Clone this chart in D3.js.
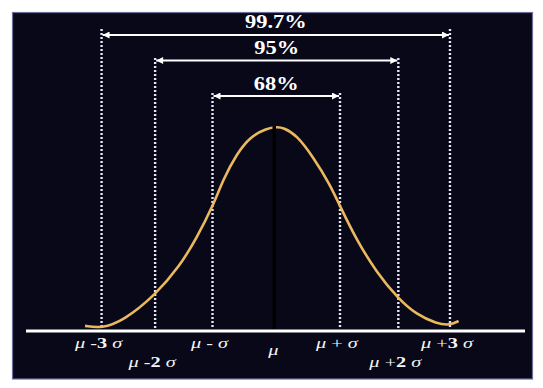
<!DOCTYPE html>
<html>
<head>
<meta charset="utf-8">
<script src="https://cdn.jsdelivr.net/npm/d3@7"></script>
<style>
  body { margin: 0; background: #ffffff; }
  svg { display: block; }
</style>
</head>
<body>
<svg id="chart"></svg>
<script>
// where the dotted σ lines sit, in σ units (as drawn, not exact)
const lineAt = [-2.74, -1.90, -1.0, 1.0, 1.915, 2.725];
const lineLevel = [2, 1, 0, 0, 1, 2]; // which band each line belongs to

// bands: 68%, 95%, 99.7%
const bandLabels = ['68%', '95%', '99.7%'];

// curve: z in σ units, height relative to the peak
const curveZ = [-3.0, -2.74, -2.40, -1.90, -1.51, -1.25, -0.99, -0.83, -0.62, -0.41, -0.15, 0.01,
                0.11, 0.32, 0.58, 0.84, 1.0, 1.26, 1.58, 1.91, 2.20, 2.52, 2.72, 2.86];
const curveH = [0.025, 0.013, 0.05, 0.175, 0.32, 0.455, 0.615, 0.745, 0.868, 0.952, 0.994, 1.0,
                0.997, 0.961, 0.852, 0.72, 0.612, 0.446, 0.285, 0.160, 0.08, 0.036, 0.028, 0.049];

// tick labels: sign and multiplier of σ, row (0 upper, 1 lower)
const tickSign = ['-', '-', '-', '+', '+', '+'];
const tickMult = ['3', '2', '', '', '2', '3'];
const tickRow = [0, 1, 0, 0, 1, 0];

const W = 543, H = 388;
const svg = d3.select('#chart').attr('width', W).attr('height', H);

const x = d3.scaleLinear().domain([-1, 1]).range([212.5, 340]);
const y = d3.scaleLinear().domain([0, 1]).range([331, 127]);

const bandTop = [93, 58, 29];
const arrowY = [96, 60.5, 35];
const labelY = [90, 53.5, 27.5];
const rowY = [348, 367];

// panel
svg.append('rect')
    .attr('x', 12.5).attr('y', 12.5)
    .attr('width', 520).attr('height', 366.5)
    .attr('fill', '#080819')
    .attr('stroke', '#6e6e98')
    .attr('stroke-width', 1.2);

const defs = svg.append('defs');
defs.append('marker')
    .attr('id', 'arr')
    .attr('viewBox', '0 0 10 10')
    .attr('refX', 10).attr('refY', 5)
    .attr('markerWidth', 9).attr('markerHeight', 7)
    .attr('markerUnits', 'userSpaceOnUse')
    .attr('orient', 'auto-start-reverse')
    .append('path')
    .attr('d', 'M0,0L10,5L0,10Z')
    .attr('fill', '#ffffff');

// dotted lines
svg.selectAll('line.sig')
    .data(lineAt)
    .enter()
    .append('line')
    .attr('class', 'sig')
    .attr('x1', d => x(d)).attr('x2', d => x(d))
    .attr('y1', (d, i) => bandTop[lineLevel[i]])
    .attr('y2', y(0) - 2)
    .attr('stroke', '#e4e4f4')
    .attr('stroke-width', 2.4)
    .attr('stroke-dasharray', '2,2');

// arrows and percentage labels
bandLabels.forEach((lab, k) => {
    const l = lineAt[2 - k], r = lineAt[3 + k];
    svg.append('line')
        .attr('x1', x(l) + 1).attr('x2', x(r) - 1)
        .attr('y1', arrowY[k]).attr('y2', arrowY[k])
        .attr('stroke', '#ffffff')
        .attr('stroke-width', 2)
        .attr('marker-start', 'url(#arr)')
        .attr('marker-end', 'url(#arr)');
    svg.append('text')
        .attr('transform', `translate(${(x(l) + x(r)) / 2},${labelY[k]}) scale(1.18,1)`)
        .attr('text-anchor', 'middle')
        .attr('font-family', '"Liberation Serif", "Times New Roman", serif')
        .attr('font-weight', 'bold')
        .attr('font-size', 19)
        .attr('fill', '#ffffff')
        .text(lab);
});

// baseline
svg.append('line')
    .attr('x1', 26).attr('x2', 525)
    .attr('y1', y(0)).attr('y2', y(0))
    .attr('stroke', '#ffffff')
    .attr('stroke-width', 3);

// curve
const line = d3.line()
    .x((d, i) => x(curveZ[i]))
    .y(d => y(d))
    .curve(d3.curveBasis);

svg.append('path')
    .datum(curveH)
    .attr('d', line)
    .attr('fill', 'none')
    .attr('stroke', '#eab95e')
    .attr('stroke-width', 2.6);

// mean line
svg.append('line')
    .attr('x1', x(0) - 2).attr('x2', x(0) - 2)
    .attr('y1', y(1) - 1).attr('y2', y(0) - 2)
    .attr('stroke', '#000000')
    .attr('stroke-width', 3.5);

// tick labels
const font = '"Liberation Serif", "Times New Roman", serif';
function sigmaLabel(cx, cy, sign, mult) {
    const t = svg.append('text')
        .attr('transform', `translate(${cx},${cy}) scale(1.45,1)`)
        .attr('text-anchor', 'middle')
        .attr('font-family', font)
        .attr('font-size', 14)
        .attr('fill', '#f4f4f4');
    t.append('tspan').attr('font-style', 'italic').text('μ');
    t.append('tspan').text(' ' + sign);
    if (mult) t.append('tspan').attr('font-weight', 'bold').text(mult);
    t.append('tspan').attr('font-style', 'italic').text(' σ');
}

lineAt.forEach((d, i) => {
    sigmaLabel(x(d) - 3, rowY[tickRow[i]], tickSign[i], tickMult[i]);
});

svg.append('text')
    .attr('transform', `translate(${x(0) - 3},355) scale(1.45,1)`)
    .attr('text-anchor', 'middle')
    .attr('font-family', font)
    .attr('font-style', 'italic')
    .attr('font-size', 14)
    .attr('fill', '#f4f4f4')
    .text('μ');
</script>
</body>
</html>
